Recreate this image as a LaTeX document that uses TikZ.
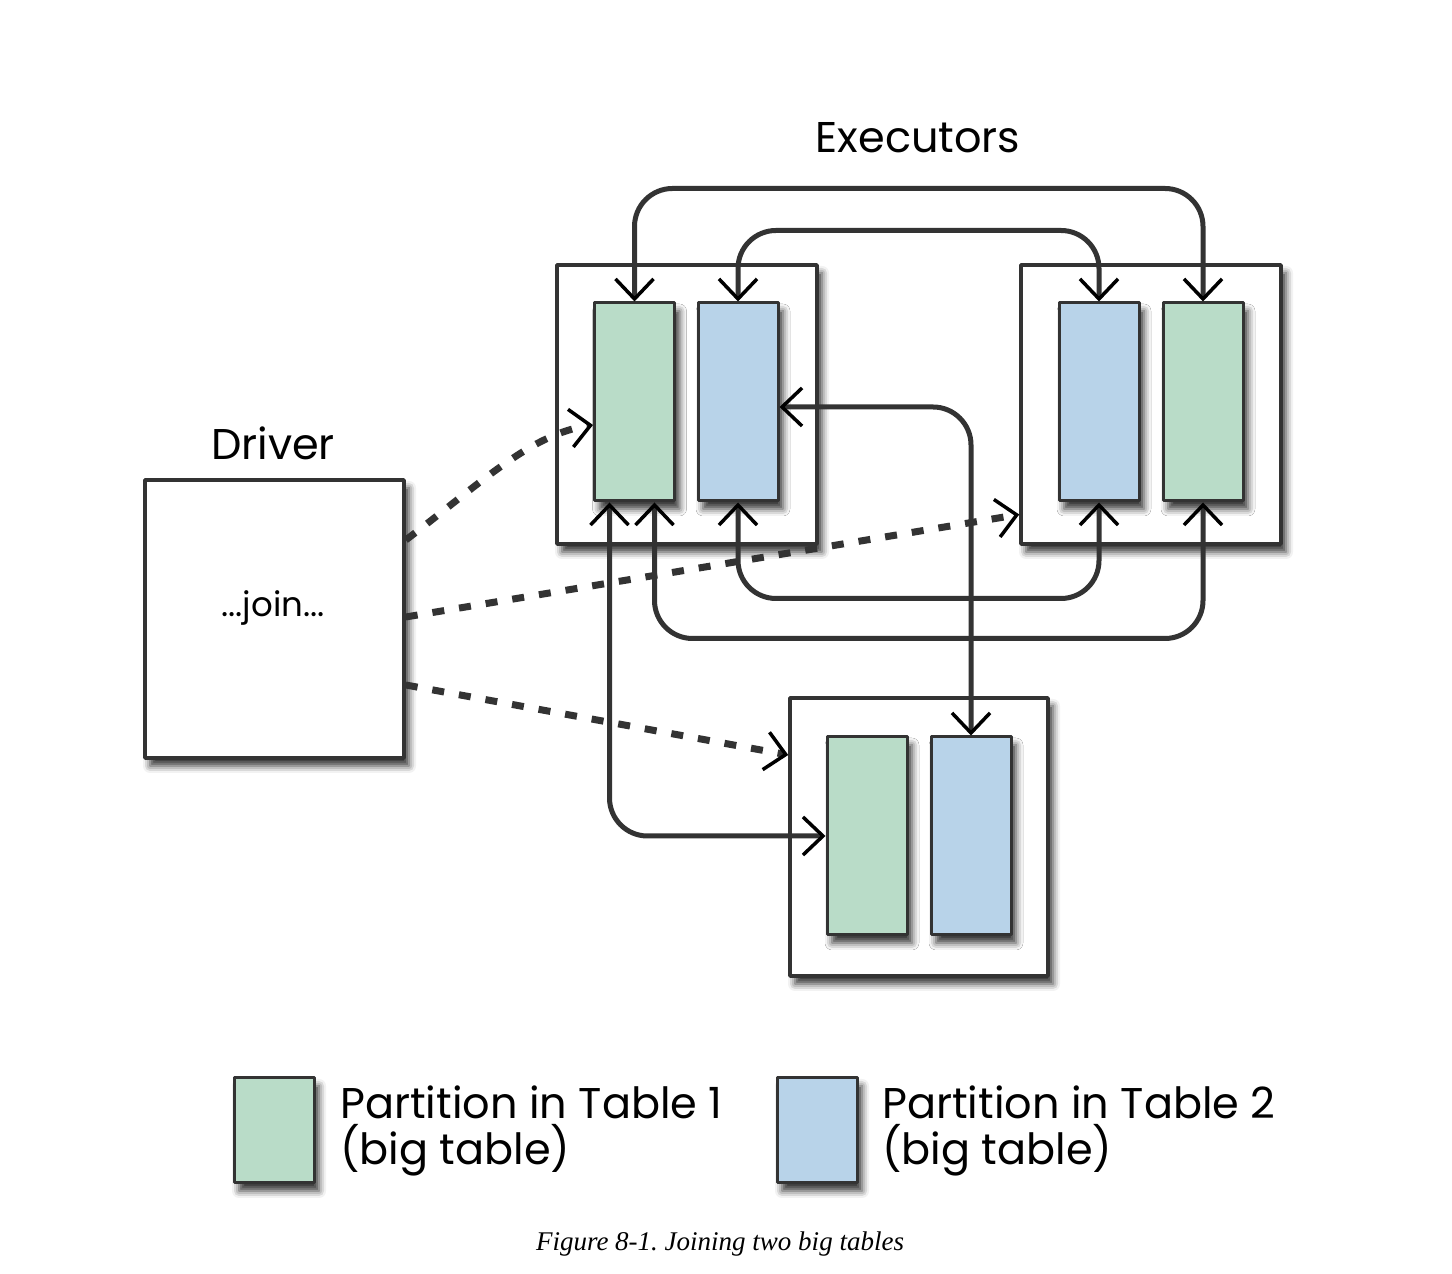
\documentclass[tikz,border=0pt]{standalone}
\usepackage{fontspec}
\setmainfont{Liberation Serif}
\newfontfamily\handfont{Poppins}
\usetikzlibrary{arrows.meta,shadows.blur}
\definecolor{inkgrey}{HTML}{333333}
\definecolor{partgreen}{HTML}{B9DCC8}
\definecolor{partblue}{HTML}{B8D3E9}
\frenchspacing
\begin{document}
\begin{tikzpicture}[>={Straight Barb[length=20bp,width=38bp,line width=3.5bp,color=black]},line join=bevel,
  soft shadow/.style={blur shadow={shadow xshift=5bp,shadow yshift=-8bp,shadow blur radius=7bp,shadow opacity=80}},
  box/.style={draw=inkgrey,line width=3.5bp,fill=white,inner sep=0pt,minimum width=260bp,minimum height=279bp,soft shadow},
  part/.style={draw=inkgrey,line width=3bp,inner sep=0pt,minimum width=80bp,minimum height=198bp,soft shadow},
  green part/.style={part,fill=partgreen},
  blue part/.style={part,fill=partblue},
  hand/.style={font=\handfont\fontsize{43bp}{46bp}\selectfont,text=black,inner sep=0pt},
  link/.style={draw=inkgrey,line width=5bp,rounded corners=38bp,<->},
  call/.style={draw=inkgrey,line width=7bp,dash pattern=on 12bp off 15bp,->},
]
\useasboundingbox (0bp,0bp) rectangle (1452bp,1274bp);
%%
\node (exec_1) at (687.0bp,869.5bp) [box] {};
  \node (exec_2) at (1151.0bp,869.5bp) [box] {};
  \node (exec_3) at (919.0bp,437.0bp) [box,minimum width=258bp,minimum height=278bp] {};
  \node (driver) at (274.5bp,655.0bp) [box,minimum width=259bp,minimum height=278bp] {};
  \node (part_1a) at (634.5bp,872.0bp) [green part] {};
  \node (part_1b) at (738.0bp,872.0bp) [blue part] {};
  \node (part_2b) at (1099.0bp,872.0bp) [blue part] {};
  \node (part_2a) at (1203.0bp,872.0bp) [green part] {};
  \node (part_3a) at (867.0bp,438.0bp) [green part] {};
  \node (part_3b) at (971.0bp,438.0bp) [blue part] {};
  \node (label_exec) at (918.0bp,1136.0bp) [hand] {Executors};
  \node (label_driver) at (273.0bp,831.0bp) [hand] {Driver};
  \node (label_join) at (273.0bp,666.0bp) [hand,font=\handfont\fontsize{34bp}{38bp}\selectfont] {...join...};
%
\node (key_1) at (274.0bp,143.5bp) [green part,minimum height=105bp] {};
  \node (key_2) at (817.0bp,143.5bp) [blue part,minimum height=105bp] {};
  \node (key_1_text) at (340.0bp,143.0bp) [hand,anchor=west,align=left] {Partition in Table 1\\(big table)};
  \node (key_2_text) at (882.0bp,143.0bp) [hand,anchor=west,align=left] {Partition in Table 2\\(big table)};
  \node (caption) at (720.0bp,30.0bp) [font=\itshape\fontsize{27bp}{30bp}\selectfont] {Figure 8-1. Joining two big tables};
%
\draw [link] (part_1a.north) -- ++(0bp,113bp) -| (part_2a.north);
  \draw [link] (part_1b.north) -- ++(0bp,71bp) -| (part_2b.north);
  \draw [link] (part_1b.south) -- ++(0bp,-96bp) -| (part_2b.south);
  \draw [link] ([xshift=20bp]part_1a.south) -- ++(0bp,-136bp) -| (part_2a.south);
  \draw [link] ([xshift=-25bp]part_1a.south) |- (part_3a.west);
  \draw [link] ([yshift=-5bp]part_1b.east) -| (part_3b.north);
%
\draw [call] ([yshift=79bp]driver.east) .. controls (480bp,790bp) and (530bp,840bp) .. ([yshift=-23bp]part_1a.west);
  \draw [call] ([yshift=2bp]driver.east) -- ([yshift=-110bp]exec_2.west);
  \draw [call] ([yshift=-66bp]driver.east) -- ([yshift=82bp]exec_3.west);
%
\end{tikzpicture}
\end{document}
